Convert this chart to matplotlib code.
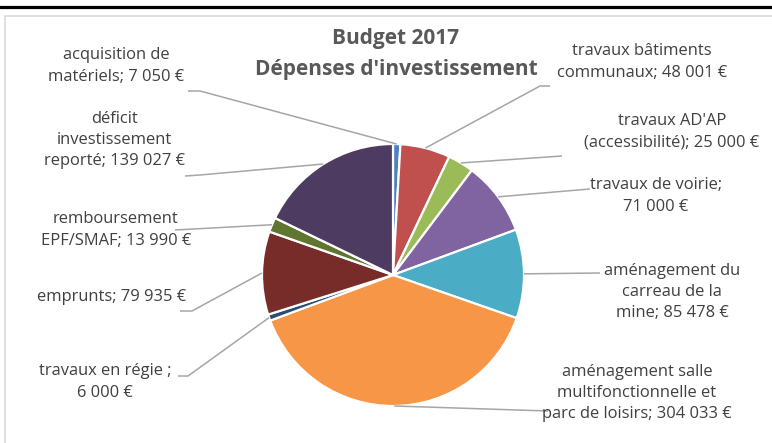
import matplotlib
matplotlib.use("Agg")
import matplotlib.pyplot as plt
import numpy as np

plt.rcParams['font.family'] = ['Open Sans', 'DejaVu Sans']

categories = [
    "acquisition de\nmatériels; 7 050 €",
    "travaux bâtiments\ncommunaux; 48 001 €",
    "travaux AD'AP\n(accessibilité); 25 000 €",
    "travaux de voirie;\n71 000 €",
    "aménagement du\ncarreau de la\nmine; 85 478 €",
    "aménagement salle\nmultifonctionnelle et\nparc de loisirs; 304 033 €",
    "travaux en régie ;\n6 000 €",
    "emprunts; 79 935 €",
    "remboursement\nEPF/SMAF; 13 990 €",
    "déficit\ninvestissement\nreporté; 139 027 €",
]
valeurs = [7050, 48001, 25000, 71000, 85478, 304033, 6000, 79935, 13990, 139027]
couleurs = ['#4F81BD', '#C0504D', '#9BBB59', '#8064A2', '#4BACC6',
            '#F79646', '#2C4D75', '#772C2A', '#5F7530', '#4D3B62']

W, H = 772, 443
fig = plt.figure(figsize=(W / 100, H / 100), dpi=100)
ax = fig.add_axes([0, 0, 1, 1])

# position en pixels (origine en haut a gauche)
def px(x, y):
    return x, H - y

cx, cy = px(393, 275)
rayon = 131
wedges, _ = ax.pie(valeurs, colors=couleurs, startangle=90, counterclock=False,
                   center=(cx, cy), radius=rayon,
                   wedgeprops=dict(edgecolor='white', linewidth=1.6))

# etiquettes: centre du texte, puis points de la ligne cote texte
etiquettes = [
    ((116, 66), [(188, 91), (200, 91)]),
    ((642, 62), [(550, 86), (540, 86)]),
    ((672, 132), [(562, 156)]),
    ((656, 196), [(590, 189), (578, 190)]),
    ((672, 292), [(600, 273)]),
    ((637, 393), [(548, 411)]),
    ((105, 382), [(178, 376), (188, 376)]),
    ((112, 297), [(180, 311), (192, 311)]),
    ((116, 230), [(175, 230)]),
    ((114, 140), [(185, 176), (200, 175)]),
]

for w, cat, (pos, coude) in zip(wedges, categories, etiquettes):
    ang = np.deg2rad((w.theta1 + w.theta2) / 2)
    x0 = cx + rayon * np.cos(ang)
    y0 = cy + rayon * np.sin(ang)
    pts = [px(*p) for p in coude]
    xs = [p[0] for p in pts] + [x0]
    ys = [p[1] for p in pts] + [y0]
    ax.plot(xs, ys, color='#A6A6A6', linewidth=1.1, solid_capstyle='butt')
    tx, ty = px(*pos)
    ax.text(tx, ty, cat, ha='center', va='center', multialignment='center',
            fontsize=11.9, color='#404040', linespacing=1.42)

tx, ty = px(396, 54)
ax.text(tx, ty, "Budget 2017\nDépenses d'investissement", ha='center', va='center',
        fontsize=15, fontweight='bold', color='#595959', linespacing=1.62)

# cadre
ax.plot([0, W], [H - 7, H - 7], color='black', linewidth=2.3)
ax.plot([5, 5, W], [0, H - 16, H - 16], color='#D9D9D9', linewidth=1.2)

ax.set_xlim(0, W)
ax.set_ylim(0, H)
ax.set_aspect('auto')
ax.axis('off')

fig.savefig("out.png", dpi=100, facecolor='white')
